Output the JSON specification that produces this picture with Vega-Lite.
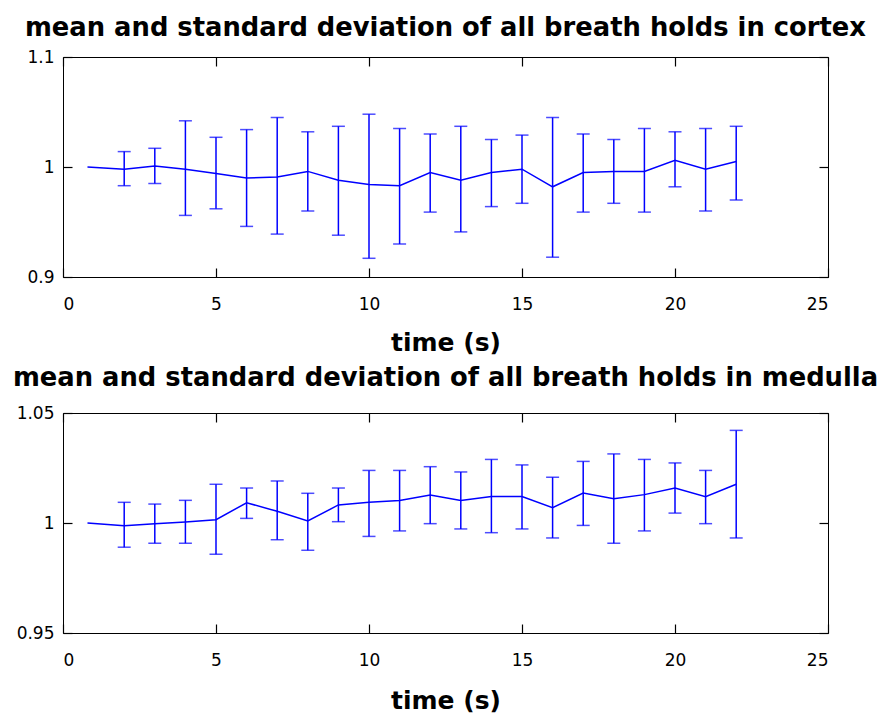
{
  "$schema": "https://vega.github.io/schema/vega-lite/v6.json",
  "background": "white",
  "padding": {"left": 12, "top": 14, "right": 0, "bottom": 0},
  "bounds": "flush",
  "spacing": 136,
  "datasets": {
    "cortex": [
      {"t": 0.8, "m": 1.0, "lo": null, "hi": null},
      {"t": 2, "m": 0.998, "lo": 0.983, "hi": 1.014},
      {"t": 3, "m": 1.001, "lo": 0.985, "hi": 1.017},
      {"t": 4, "m": 0.998, "lo": 0.956, "hi": 1.042},
      {"t": 5, "m": 0.994, "lo": 0.962, "hi": 1.027},
      {"t": 6, "m": 0.990, "lo": 0.946, "hi": 1.034},
      {"t": 7, "m": 0.991, "lo": 0.939, "hi": 1.045},
      {"t": 8, "m": 0.996, "lo": 0.960, "hi": 1.032},
      {"t": 9, "m": 0.988, "lo": 0.938, "hi": 1.037},
      {"t": 10, "m": 0.984, "lo": 0.917, "hi": 1.048},
      {"t": 11, "m": 0.983, "lo": 0.930, "hi": 1.035},
      {"t": 12, "m": 0.995, "lo": 0.959, "hi": 1.030},
      {"t": 13, "m": 0.988, "lo": 0.941, "hi": 1.037},
      {"t": 14, "m": 0.995, "lo": 0.964, "hi": 1.025},
      {"t": 15, "m": 0.998, "lo": 0.967, "hi": 1.029},
      {"t": 16, "m": 0.982, "lo": 0.918, "hi": 1.045},
      {"t": 17, "m": 0.995, "lo": 0.959, "hi": 1.030},
      {"t": 18, "m": 0.996, "lo": 0.967, "hi": 1.025},
      {"t": 19, "m": 0.996, "lo": 0.959, "hi": 1.035},
      {"t": 20, "m": 1.006, "lo": 0.982, "hi": 1.032},
      {"t": 21, "m": 0.998, "lo": 0.960, "hi": 1.035},
      {"t": 22, "m": 1.005, "lo": 0.970, "hi": 1.037}
    ],
    "medulla": [
      {"t": 0.8, "m": 1.0, "lo": null, "hi": null},
      {"t": 2, "m": 0.9988, "lo": 0.989, "hi": 1.0094},
      {"t": 3, "m": 0.9997, "lo": 0.9908, "hi": 1.0086},
      {"t": 4, "m": 1.0005, "lo": 0.9908, "hi": 1.0103},
      {"t": 5, "m": 1.0015, "lo": 0.9858, "hi": 1.0176},
      {"t": 6, "m": 1.0092, "lo": 1.0021, "hi": 1.0159},
      {"t": 7, "m": 1.0053, "lo": 0.9924, "hi": 1.0191},
      {"t": 8, "m": 1.0009, "lo": 0.9876, "hi": 1.0135},
      {"t": 9, "m": 1.0082, "lo": 1.0006, "hi": 1.0159},
      {"t": 10, "m": 1.0094, "lo": 0.9939, "hi": 1.0239},
      {"t": 11, "m": 1.0102, "lo": 0.9964, "hi": 1.0239},
      {"t": 12, "m": 1.0127, "lo": 0.9997, "hi": 1.0256},
      {"t": 13, "m": 1.0102, "lo": 0.9973, "hi": 1.0232},
      {"t": 14, "m": 1.012, "lo": 0.9956, "hi": 1.0289},
      {"t": 15, "m": 1.012, "lo": 0.9973, "hi": 1.0264},
      {"t": 16, "m": 1.007, "lo": 0.9932, "hi": 1.0208},
      {"t": 17, "m": 1.0136, "lo": 0.9989, "hi": 1.028},
      {"t": 18, "m": 1.011, "lo": 0.9908, "hi": 1.0314},
      {"t": 19, "m": 1.0129, "lo": 0.9964, "hi": 1.0289},
      {"t": 20, "m": 1.0159, "lo": 1.0045, "hi": 1.0273},
      {"t": 21, "m": 1.012, "lo": 0.9997, "hi": 1.0239},
      {"t": 22, "m": 1.0176, "lo": 0.9932, "hi": 1.0421}
    ]
  },
  "vconcat": [
    {
      "width": 765,
      "height": 220,
      "data": {"name": "cortex"},
      "title": {"text": "mean and standard deviation of all breath holds in cortex", "font": "DejaVu Sans", "fontSize": 25.8, "fontWeight": "bold", "anchor": "middle", "baseline": "alphabetic", "frame": "group", "offset": -14, "color": "black"},
      "resolve": {"axis": {"x": "independent", "y": "independent"}},
      "layer": [
        {
          "mark": {"type": "line", "color": "#0000ff", "strokeWidth": 1.5},
          "encoding": {
            "x": {"field": "t", "type": "quantitative", "scale": {"domain": [0, 25], "nice": false, "zero": false},
                  "axis": {"orient": "bottom", "values": [0, 5, 10, 15, 20, 25], "offset": -9, "tickSize": 9, "domain": false, "labelPadding": 19, "title": "time (s)", "titleY": 82, "titleBaseline": "alphabetic"}},
            "y": {"field": "m", "type": "quantitative", "scale": {"domain": [0.9, 1.1], "nice": false, "zero": false},
                  "axis": {"orient": "left", "values": [0.9, 1.0, 1.1], "offset": -9, "tickSize": 9, "domain": false, "labelPadding": 9, "title": null, "labelExpr": "'' + datum.value"}}
          }
        },
        {
          "mark": {"type": "rule", "color": "#0000ff", "strokeWidth": 1.5},
          "encoding": {
            "x": {"field": "t", "type": "quantitative", "scale": {"domain": [0, 25], "nice": false, "zero": false},
                  "axis": {"orient": "top", "values": [0, 5, 10, 15, 20, 25], "offset": -9, "tickSize": 9, "domain": false, "labels": false, "title": null}},
            "y": {"field": "lo", "type": "quantitative", "scale": {"domain": [0.9, 1.1], "nice": false, "zero": false},
                  "axis": {"orient": "right", "values": [0.9, 1.0, 1.1], "offset": -9, "tickSize": 9, "domain": false, "labels": false, "title": null}},
            "y2": {"field": "hi"}
          }
        },
        {
          "mark": {"type": "tick", "color": "#0000ff", "orient": "horizontal", "size": 13, "thickness": 1.5},
          "encoding": {
            "x": {"field": "t", "type": "quantitative", "axis": null},
            "y": {"field": "lo", "type": "quantitative", "axis": null}
          }
        },
        {
          "mark": {"type": "tick", "color": "#0000ff", "orient": "horizontal", "size": 13, "thickness": 1.5},
          "encoding": {
            "x": {"field": "t", "type": "quantitative", "axis": null},
            "y": {"field": "hi", "type": "quantitative", "axis": null}
          }
        }
      ]
    },
    {
      "width": 765,
      "height": 220,
      "data": {"name": "medulla"},
      "title": {"text": "mean and standard deviation of all breath holds in medulla", "font": "DejaVu Sans", "fontSize": 25.8, "fontWeight": "bold", "anchor": "middle", "baseline": "alphabetic", "frame": "group", "offset": -8, "color": "black"},
      "resolve": {"axis": {"x": "independent", "y": "independent"}},
      "layer": [
        {
          "mark": {"type": "line", "color": "#0000ff", "strokeWidth": 1.5},
          "encoding": {
            "x": {"field": "t", "type": "quantitative", "scale": {"domain": [0, 25], "nice": false, "zero": false},
                  "axis": {"orient": "bottom", "values": [0, 5, 10, 15, 20, 25], "offset": -9, "tickSize": 9, "domain": false, "labelPadding": 19, "title": "time (s)", "titleY": 84, "titleBaseline": "alphabetic"}},
            "y": {"field": "m", "type": "quantitative", "scale": {"domain": [0.95, 1.05], "nice": false, "zero": false},
                  "axis": {"orient": "left", "values": [0.95, 1.0, 1.05], "offset": -9, "tickSize": 9, "domain": false, "labelPadding": 9, "title": null, "labelExpr": "'' + datum.value"}}
          }
        },
        {
          "mark": {"type": "rule", "color": "#0000ff", "strokeWidth": 1.5},
          "encoding": {
            "x": {"field": "t", "type": "quantitative", "scale": {"domain": [0, 25], "nice": false, "zero": false},
                  "axis": {"orient": "top", "values": [0, 5, 10, 15, 20, 25], "offset": -9, "tickSize": 9, "domain": false, "labels": false, "title": null}},
            "y": {"field": "lo", "type": "quantitative", "scale": {"domain": [0.95, 1.05], "nice": false, "zero": false},
                  "axis": {"orient": "right", "values": [0.95, 1.0, 1.05], "offset": -9, "tickSize": 9, "domain": false, "labels": false, "title": null}},
            "y2": {"field": "hi"}
          }
        },
        {
          "mark": {"type": "tick", "color": "#0000ff", "orient": "horizontal", "size": 13, "thickness": 1.5},
          "encoding": {
            "x": {"field": "t", "type": "quantitative", "axis": null},
            "y": {"field": "lo", "type": "quantitative", "axis": null}
          }
        },
        {
          "mark": {"type": "tick", "color": "#0000ff", "orient": "horizontal", "size": 13, "thickness": 1.5},
          "encoding": {
            "x": {"field": "t", "type": "quantitative", "axis": null},
            "y": {"field": "hi", "type": "quantitative", "axis": null}
          }
        }
      ]
    }
  ],
  "config": {
    "view": {"stroke": "black", "strokeWidth": 1},
    "axis": {
      "grid": false,
      "domainColor": "black",
      "domainWidth": 1,
      "tickColor": "black",
      "tickWidth": 1.2,
      "labelColor": "black",
      "labelFont": "DejaVu Sans",
      "labelFontSize": 17,
      "labelFontWeight": "normal",
      "titleColor": "black",
      "titleFont": "DejaVu Sans",
      "titleFontSize": 25,
      "titleFontWeight": "bold"
    }
  }
}
